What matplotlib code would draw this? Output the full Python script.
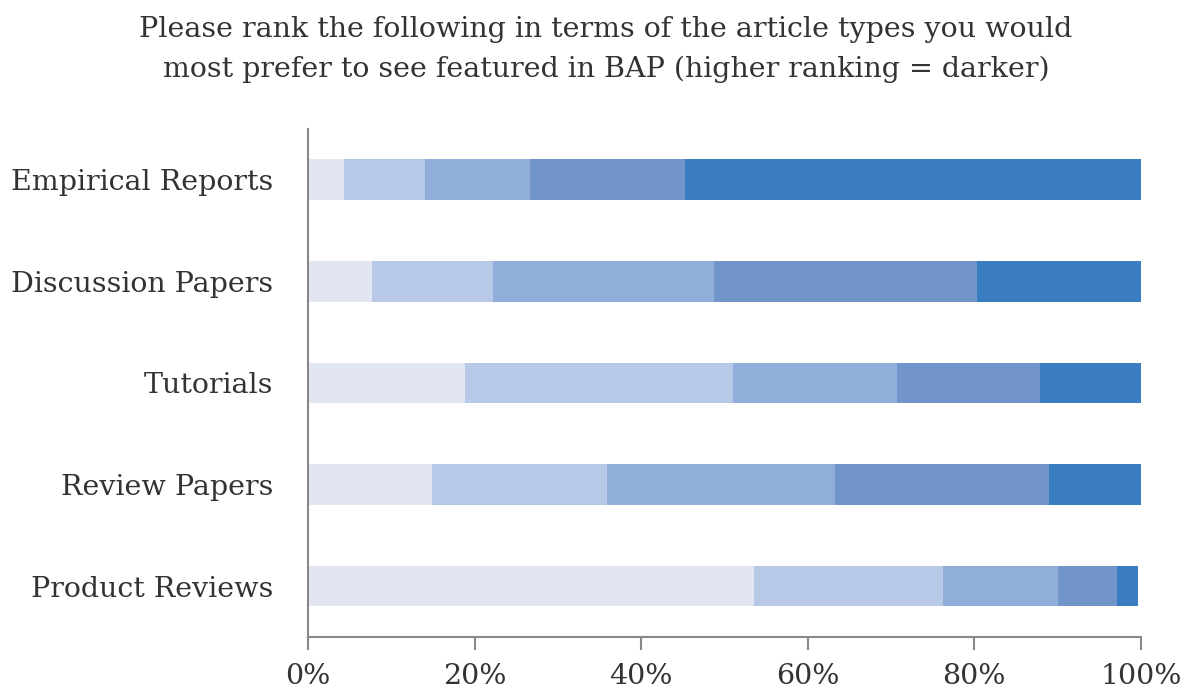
import matplotlib.pyplot as plt
import numpy as np

# Данные: доли ответов по рангам (от низкого к высокому), в процентах
categories = ['Product Reviews', 'Review Papers', 'Tutorials',
              'Discussion Papers', 'Empirical Reports']
rank1 = [53.5, 14.9, 18.8, 7.7, 4.3]
rank2 = [22.7, 21.0, 32.2, 14.5, 9.7]
rank3 = [13.8, 27.4, 19.7, 26.5, 12.6]
rank4 = [7.1, 25.7, 17.2, 31.6, 18.7]
rank5 = [2.6, 11.0, 12.1, 19.7, 54.7]
colors = ['#E2E6F3', '#B8C8E7', '#90AED9', '#7195CA', '#3A7CC0']
xticks = [0, 20, 40, 60, 80, 100]
title_lines = ['Please rank the following in terms of the article types you would',
               'most prefer to see featured in BAP (higher ranking = darker)']

plt.rcParams['font.family'] = 'DejaVu Serif'

fig = plt.figure(figsize=(11.88, 6.95), dpi=100)
ax = fig.add_axes([0.2593, 0.0835, 0.7011, 0.731])

y = np.arange(len(categories))
left = np.zeros(len(categories))
for vals, c in zip([rank1, rank2, rank3, rank4, rank5], colors):
    ax.barh(y, vals, left=left, height=0.4, color=c)
    left += np.array(vals)

ax.set_xlim(0, 100)
ax.set_ylim(-0.5, 4.5)
ax.set_yticks(y)
ax.set_yticklabels(categories, fontsize=20.5, color='#333333')
ax.set_xticks(xticks)
ax.set_xticklabels([f'{t}%' for t in xticks], fontsize=20.5, color='#333333')
ax.tick_params(axis='y', length=0, pad=25)
ax.tick_params(axis='x', length=9, width=1.5, color='#888888', pad=10)
for s in ['top', 'right']:
    ax.spines[s].set_visible(False)
for s in ['left', 'bottom']:
    ax.spines[s].set_color('#888888')
    ax.spines[s].set_linewidth(1.5)

# Заголовок в две строки
fig.text(0.51, 0.958, title_lines[0], ha='center', va='center',
         fontsize=20.5, color='#333333')
fig.text(0.51, 0.900, title_lines[1], ha='center', va='center',
         fontsize=20.5, color='#333333')

fig.savefig('out.png', dpi=100)
